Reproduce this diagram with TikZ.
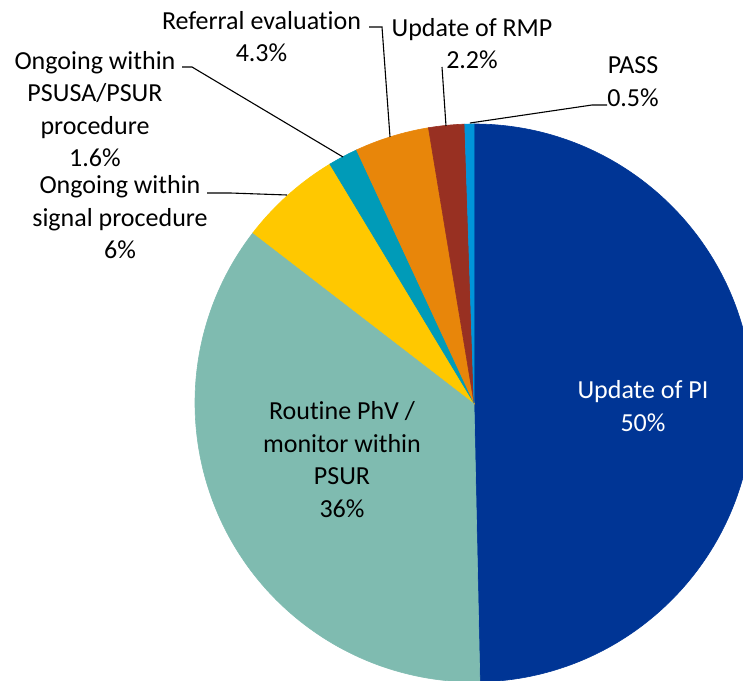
\documentclass[tikz,border=0pt]{standalone}
\usepackage{fontspec}
\setmainfont{Carlito}[Ligatures=NoCommon]
\usepackage{tikz}
\usetikzlibrary{calc}
\definecolor{pidark}{HTML}{003595}
\definecolor{routine}{HTML}{7FBBB0}
\definecolor{signal}{HTML}{FFC800}
\definecolor{psusa}{HTML}{009BB8}
\definecolor{referral}{HTML}{E8860A}
\definecolor{rmp}{HTML}{983022}
\definecolor{pass}{HTML}{0095D9}
\tikzset{
  wedge/.style={draw=white, line width=0.6pt},
  lab/.style={align=center, inner sep=0pt, font=\fontsize{26}{32.5}\selectfont},
  leader/.style={draw=black, line width=1.1pt},
}
\newcommand\slice[3]{%
  \fill[wedge, #3] (ctr) -- ($(ctr)+(#1:279)$) arc[start angle=#1, end angle=#2, radius=279] -- cycle;}

\begin{document}
\begin{tikzpicture}[x=1pt, y=1pt]
  \useasboundingbox (0,0) rectangle (743,680);
  \coordinate (ctr) at (474,277);
  \begin{scope}
    \clip (0,0) rectangle (743,680);
    \slice{-88.8}{90}{pidark}
    \slice{142.4}{271.2}{routine}
    \slice{121.1}{142.4}{signal}
    \slice{114.9}{121.1}{psusa}
    \slice{99.4}{114.9}{referral}
    \slice{91.9}{99.4}{rmp}
    \slice{90}{91.9}{pass}
  \end{scope}
  % labels
  \node[lab, text=white] (pi) at (643,274) {Update of PI\\50\%};
  \node[lab] (phv) at (342,220.5) {Routine PhV /\\monitor within\\PSUR\\36\%};
  \node[lab] (sig) at (120,462.5) {Ongoing within\\signal procedure\\6\%};
  \node[lab] (psusa) at (95,571) {Ongoing within\\PSUSA/PSUR\\procedure\\1.6\%};
  \node[lab] (ref) at (261.5,643.5) {Referral evaluation\\4.3\%};
  \node[lab] (rmpl) at (472,636.5) {Update of RMP\\2.2\%};
  \node[lab] (passl) at (633,598.5) {PASS\\0.5\%};
  % leader lines
  \coordinate (refA) at (369,653);
  \coordinate (refB) at (382,653);
  \coordinate (refC) at (390,543);
  \coordinate (rmpA) at (442,613);
  \coordinate (rmpB) at (446,554);
  \coordinate (passA) at (607,575);
  \coordinate (passB) at (592,575);
  \coordinate (passC) at (470,557);
  \coordinate (psA) at (182,613);
  \coordinate (psB) at (192,613);
  \coordinate (psC) at (343,523);
  \coordinate (sgA) at (207,487);
  \coordinate (sgB) at (230,487);
  \coordinate (sgC) at (287,485);
  \draw[leader] (refA) -- (refB) -- (refC);
  \draw[leader] (rmpA) -- (rmpB);
  \draw[leader] (passA) -- (passB) -- (passC);
  \draw[leader] (psA) -- (psB) -- (psC);
  \draw[leader] (sgA) -- (sgB) -- (sgC);
\end{tikzpicture}
\end{document}
